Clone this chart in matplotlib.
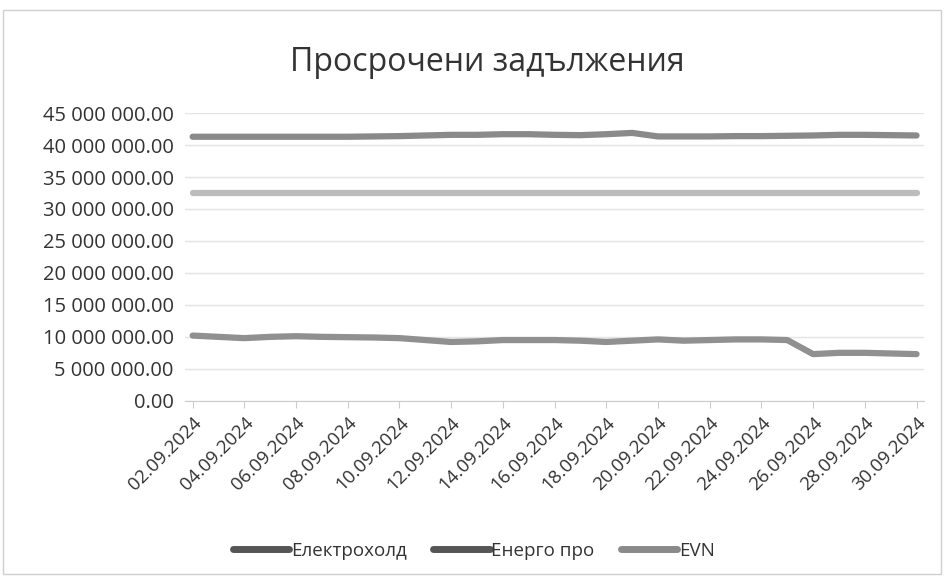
import matplotlib.pyplot as plt
import matplotlib.ticker as mticker
from matplotlib.lines import Line2D
import numpy as np

plt.rcParams['font.family'] = ['Open Sans', 'DejaVu Sans']

dates = [f"{d:02d}.09.2024" for d in range(2, 31)]

# values in millions, one per day 02.09 - 30.09
elektroholod = [41.3, 41.3, 41.3, 41.3, 41.3, 41.3, 41.3, 41.35, 41.4, 41.5,
                41.6, 41.6, 41.7, 41.7, 41.6, 41.55, 41.7, 41.9, 41.35, 41.35,
                41.35, 41.4, 41.4, 41.45, 41.5, 41.6, 41.6, 41.55, 41.5]
energo_pro = [10.2, 10.0, 9.8, 10.0, 10.1, 10.0, 9.95, 9.9, 9.8, 9.5,
              9.2, 9.3, 9.5, 9.5, 9.5, 9.4, 9.2, 9.4, 9.6, 9.4,
              9.5, 9.6, 9.6, 9.5, 7.3, 7.5, 7.5, 7.4, 7.3]
evn = [32.5, 32.5, 32.5, 32.5, 32.5, 32.5, 32.5, 32.5, 32.5, 32.5,
       32.5, 32.5, 32.5, 32.5, 32.5, 32.5, 32.5, 32.5, 32.5, 32.5,
       32.5, 32.5, 32.5, 32.5, 32.5, 32.5, 32.5, 32.5, 32.5]

names = ["Електрохолд", "Енерго про", "EVN"]
colors = ["#8a8a8a", "#909090", "#bcbcbc"]
legend_colors = ["#555555", "#555555", "#8a8a8a"]

fig = plt.figure(figsize=(9.48, 5.8), dpi=100)
ax = fig.add_axes([0.195, 0.309, 0.78, 0.496])

x = np.arange(len(dates))
for name, vals, col in zip(names, [elektroholod, energo_pro, evn], colors):
    ax.plot(x, np.array(vals) * 1e6, color=col, lw=4.5, solid_capstyle="round",
            solid_joinstyle="round", label=name)

ax.set_ylim(0, 45e6)
ax.set_xlim(-0.3, len(dates) - 0.7)
ax.yaxis.set_major_locator(mticker.MultipleLocator(5e6))
ax.yaxis.set_major_formatter(mticker.FuncFormatter(
    lambda v, p: f"{v:,.2f}".replace(",", " ")))
ax.set_xticks(x[::2])
ax.set_xticklabels(dates[::2], rotation=45, ha="right", rotation_mode="anchor")
ax.tick_params(axis="y", length=0, labelsize=14.5, colors="#333333", pad=8)
ax.tick_params(axis="x", length=5, color="#cccccc", labelsize=13.5,
               colors="#333333", pad=4)
ax.grid(axis="y", color="#e4e4e4", lw=1)
ax.set_axisbelow(True)
for s in ["top", "right", "left"]:
    ax.spines[s].set_visible(False)
ax.spines["bottom"].set_color("#cccccc")

fig.text(0.514, 0.893, "Просрочени задължения", ha="center", va="center",
         fontsize=23, color="#333333")

handles = [Line2D([], [], color=c, lw=5, solid_capstyle="round") for c in legend_colors]
fig.legend(handles, names, loc="center", bbox_to_anchor=(0.5, 0.05), ncol=3,
           frameon=False, fontsize=13.5, handlelength=3.0, handletextpad=0.1,
           columnspacing=1.4, labelcolor="#333333")

border = plt.Rectangle((0.003, 0.01), 0.99, 0.972, transform=fig.transFigure,
                       fill=False, ec="#d0d0d0", lw=1)
fig.patches.append(border)

fig.savefig("out.png", dpi=100)
